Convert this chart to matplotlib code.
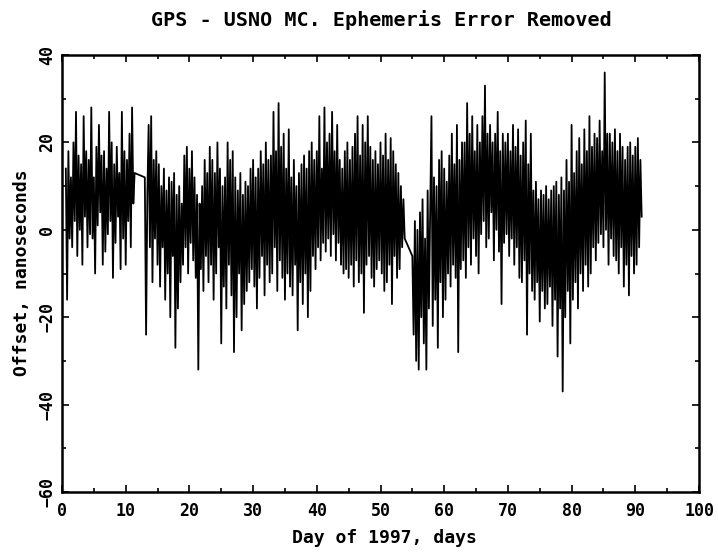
import numpy as np
import matplotlib
matplotlib.use('Agg')
import matplotlib.pyplot as plt
from matplotlib.ticker import MultipleLocator
from matplotlib.font_manager import FontProperties

###### DATA (5 samples per day) #############################
# segment 1: day 0.6 .. 11.4
seg1_start = 0.6
seg1_ns = [
    14, -16, 18, -2, 12,
    -4, 20, 2, 27, -6,
    17, 0, 15, -8, 26,
    3, 18, -4, 16, -1,
    28, -2, 12, -10, 19,
    1, 24, 4, 17, -8,
    18, -5, 14, -1, 27,
    2, 20, -11, 15, -3,
    19, 3, 13, -9, 27,
    -2, 18, -8, 16, 2,
    22, -4, 28, 6, 13,
]
# segment 2: day 13.0 .. 53.8
seg2_start = 13.0
seg2_ns = [
    12, -24, 8, 24, -4,
    26, -12, 16, -2, 18,
    -8, 15, -13, 10, -4,
    14, -16, 9, -10, 12,
    -20, 11, -6, 13, -27,
    8, -18, 10, -12, 6,
    -8, 17, -4, 19, -10,
    14, -3, 18, -7, 12,
    -11, 8, -32, 6, -9,
    10, -14, 16, -6, 13,
    -12, 19, -8, 16, -16,
    13, -10, 20, -4, 14,
    -26, 10, -13, 12, -18,
    20, -8, 16, -15, 18,
    -28, 12, -20, 9, -10,
    13, -23, 8, -17, 11,
    -14, 10, -12, 14, -9,
    16, -13, 12, -18, 14,
    -11, 18, -6, 15, -15,
    20, -8, 16, -12, 17,
    -10, 27, -4, 18, -14,
    29, -7, 19, -11, 22,
    -16, 14, -10, 23, -13,
    12, -15, 16, -8, 10,
    -23, 13, -12, 15, -17,
    17, -10, 14, -20, 18,
    -14, 20, -6, 16, -9,
    18, -4, 26, -7, 14,
    -3, 28, -5, 20, -2,
    22, -6, 27, -1, 18,
    -7, 24, -3, 16, -8,
    14, -10, 18, -9, 20,
    -11, 16, -8, 19, -13,
    22, -7, 26, -12, 17,
    -10, 24, -19, 20, -8,
    26, -6, 19, -11, 16,
    -13, 18, -9, 15, -7,
    20, -10, 17, -14, 22,
    -12, 16, -8, 21, -17,
    18, -6, 15, -11, 13,
    -9, 10, -4, 7, -2,
]
# segment 3: day 55.0 .. 91.0
seg3_start = 55.0
seg3_ns = [
    -6, -24, 2, -30, 0,
    -32, 4, -20, 7, -26,
    -2, -32, 9, -18, 5,
    26, -22, 12, -16, 10,
    -27, 16, -12, 18, -20,
    14, -16, 11, -10, 17,
    -13, 22, -8, 15, -11,
    24, -28, 16, -9, 20,
    -7, 20, -11, 29, -4,
    22, -8, 26, -2, 18,
    -6, 24, -10, 20, -1,
    26, 2, 33, -4, 22,
    -2, 24, 4, 20, -7,
    22, 0, 27, -5, 18,
    -17, 22, -3, 20, -1,
    22, -6, 18, -2, 24,
    -8, 19, -4, 23, -11,
    17, -12, 20, -7, 25,
    -24, 15, -10, 22, -14,
    9, -16, 11, -12, 7,
    -21, 9, -14, 8, -18,
    10, -17, 7, -13, 9,
    -22, 10, -16, 11, -29,
    8, -18, 12, -37, 9,
    -20, 16, -14, 11, -26,
    24, -16, 13, -12, 18,
    -18, 21, -10, 15, -14,
    23, -8, 18, -13, 26,
    -10, 19, -4, 22, -7,
    21, -3, 25, -1, 18,
    -4, 36, 0, 22, -8,
    22, -2, 20, -6, 23,
    -7, 18, -10, 22, -4,
    19, -13, 16, -8, 19,
    -15, 20, -6, 17, -10,
    19, -8, 21, -4, 16,
    3,
]
step = 0.2  # days between samples
########################


def seg_days(start, vals):
    return start + step * np.arange(len(vals))


days = np.concatenate([seg_days(seg1_start, seg1_ns),
                       seg_days(seg2_start, seg2_ns),
                       seg_days(seg3_start, seg3_ns)])
offset = np.concatenate([seg1_ns, seg2_ns, seg3_ns]).astype(float)

W, H = 718, 556
fig = plt.figure(figsize=(W / 100, H / 100), dpi=100)
ax = fig.add_axes([62 / W, (H - 492) / H, (699 - 62) / W, (492 - 55) / H])

ax.plot(days, offset, color='k', lw=1.3)

ax.set_xlim(0, 100)
ax.set_ylim(-60, 40)
ax.xaxis.set_major_locator(MultipleLocator(10))
ax.xaxis.set_minor_locator(MultipleLocator(5))
ax.yaxis.set_major_locator(MultipleLocator(20))
ax.yaxis.set_minor_locator(MultipleLocator(10))
ax.tick_params(which='both', direction='in', top=True, right=True, width=1.2)
ax.tick_params(which='major', length=5)
ax.tick_params(which='minor', length=3)
ax.tick_params(axis='x', pad=7)
ax.tick_params(axis='y', pad=4)
for sp in ax.spines.values():
    sp.set_linewidth(1.8)

font = dict(family='DejaVu Sans Mono', weight='bold')
for lab in ax.get_xticklabels():
    lab.set_fontproperties(FontProperties(size=12, **font))
for lab in ax.get_yticklabels():
    lab.set_fontproperties(FontProperties(size=12, **font))
    lab.set_rotation(90)
    lab.set_va('center')

fig.text(381 / W, 1 - 20 / H, 'GPS - USNO MC. Ephemeris Error Removed',
         ha='center', va='center', fontsize=14.5, **font)
fig.text(384 / W, 1 - 538 / H, 'Day of 1997, days',
         ha='center', va='center', fontsize=13, **font)
fig.text(22 / W, 1 - 273 / H, 'Offset, nanoseconds', rotation=90,
         ha='center', va='center', fontsize=13, **font)

fig.savefig('out.png', dpi=100)
